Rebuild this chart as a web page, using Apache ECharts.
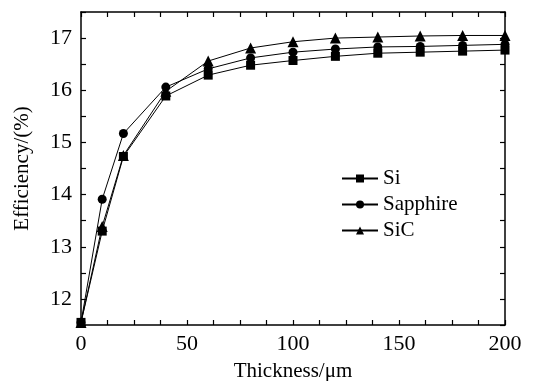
<!DOCTYPE html>
<html><head><meta charset="utf-8">
<script src="https://cdn.jsdelivr.net/npm/echarts@6/dist/echarts.min.js"></script>
<style>html,body{margin:0;padding:0;background:#fff}#c{width:548px;height:381px}</style>
</head><body><div id="c"></div>
<script>
const thickness = [0, 10, 20, 40, 60, 80, 100, 120, 140, 160, 180, 200];
const si = [11.55, 13.30, 14.73, 15.89, 16.29, 16.48, 16.57, 16.65, 16.71, 16.73, 16.75, 16.77];
const sapphire = [11.55, 13.91, 15.17, 16.06, 16.41, 16.62, 16.73, 16.79, 16.83, 16.84, 16.86, 16.88];
const sic = [11.55, 13.39, 14.75, 15.98, 16.56, 16.81, 16.93, 17.00, 17.02, 17.04, 17.05, 17.05];
const seriesNames = ['Si', 'Sapphire', 'SiC'];
const symbols = ['rect', 'circle', 'triangle'];
const xTitle = 'Thickness/μm';
const yTitle = 'Efficiency/(%)';

const font = 'Liberation Serif, Times New Roman, serif';
const axisLine = {show: true, onZero: false, lineStyle: {color: '#000', width: 1.5}};
const tick = {show: true, inside: true, length: 5, lineStyle: {color: '#000', width: 1.2}};
const pair = (xs, ys) => xs.map((x, i) => [x, ys[i]]);
const data = [si, sapphire, sic];

const chart = echarts.init(document.getElementById('c'), null, {renderer: 'canvas'});
chart.setOption({
  animation: false,
  backgroundColor: '#fff',
  grid: {left: 81, right: 43, top: 12, bottom: 56, containLabel: false, outerBoundsMode: 'none'},
  legend: {
    orient: 'vertical', left: 336, top: 163, itemGap: 5, itemWidth: 36, itemHeight: 10,
    textStyle: {fontFamily: font, fontSize: 21, color: '#000'},
    data: seriesNames
  },
  xAxis: [{
    type: 'value', min: 0, max: 200, interval: 12.5,
    name: xTitle, nameLocation: 'middle', nameGap: 36,
    nameTextStyle: {fontFamily: font, fontSize: 21, color: '#000'},
    axisLine: axisLine, axisTick: tick, splitLine: {show: false},
    axisLabel: {fontFamily: font, fontSize: 22, color: '#000', margin: 8,
      formatter: v => (Math.abs(v % 50) < 1e-6 ? String(v) : '')}
  }, {
    type: 'value', position: 'top', min: 0, max: 200, interval: 12.5,
    axisLine: axisLine, axisTick: tick, splitLine: {show: false}, axisLabel: {show: false}
  }],
  yAxis: [{
    type: 'value', min: 11.5, max: 17.5, interval: 0.5,
    name: yTitle, nameLocation: 'middle', nameGap: 48,
    nameTextStyle: {fontFamily: font, fontSize: 21, color: '#000'},
    axisLine: axisLine, axisTick: tick, splitLine: {show: false},
    axisLabel: {fontFamily: font, fontSize: 22, color: '#000', margin: 9,
      formatter: v => (Math.abs(v - Math.round(v)) < 1e-6 ? String(Math.round(v)) : '')}
  }, {
    type: 'value', position: 'right', min: 11.5, max: 17.5, interval: 0.5,
    axisLine: axisLine, axisTick: tick, splitLine: {show: false}, axisLabel: {show: false}
  }],
  series: seriesNames.map((n, i) => ({
    name: n, type: 'line', data: pair(thickness, data[i]),
    symbol: symbols[i], symbolSize: i === 2 ? 11 : 9,
    lineStyle: {color: '#000', width: 1}, itemStyle: {color: '#000'},
    clip: false
  }))
});
</script></body></html>
